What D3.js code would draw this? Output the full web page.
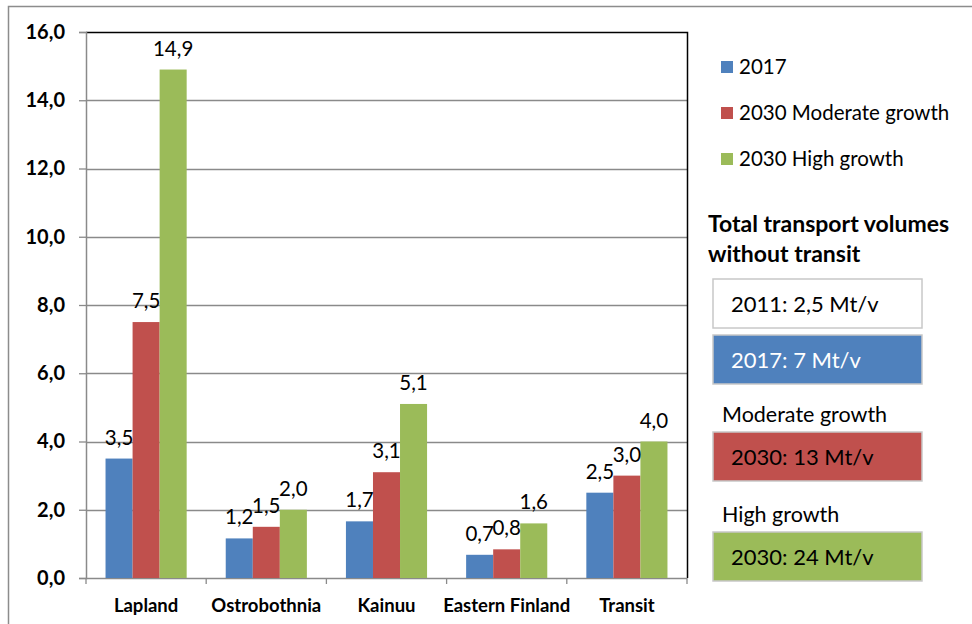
<!DOCTYPE html>
<html>
<head>
<meta charset="utf-8">
<script src="https://cdn.jsdelivr.net/npm/d3@7"></script>
<style>
  body { margin: 0; background: #fff; }
  text { font-family: Lato, "Open Sans", sans-serif; fill: #000; }
</style>
</head>
<body>
<div id="chart"></div>
<script>
// categories and series
var regions = ["Lapland", "Ostrobothnia", "Kainuu", "Eastern Finland", "Transit"];
var seriesNames = ["2017", "2030 Moderate growth", "2030 High growth"];
var values2017 = [3.5, 1.16, 1.66, 0.68, 2.5];
var valuesModerate = [7.5, 1.5, 3.1, 0.84, 3.0];
var valuesHigh = [14.9, 2.0, 5.1, 1.6, 4.0];
var yTicks = [0, 2, 4, 6, 8, 10, 12, 14, 16];

// side boxes
var boxTitle = ["Total transport volumes", "without transit"];
var boxLabels = ["", "", "Moderate growth", "High growth"];
var boxTexts = ["2011: 2,5 Mt/v", "2017: 7 Mt/v", "2030: 13 Mt/v", "2030: 24 Mt/v"];

var colors = ["#4F81BD", "#C0504D", "#9BBB59"];

var width = 972, height = 624;
var plot = { left: 86, right: 687, top: 32, bottom: 578 };

var svg = d3.select("#chart").append("svg")
  .attr("width", width)
  .attr("height", height);

// outer frame
svg.append("path")
  .attr("d", "M8.5," + height + "V6.5H" + width)
  .attr("fill", "none")
  .attr("stroke", "#8c8c8c")
  .attr("stroke-width", 1.5);

var x0 = d3.scaleBand()
  .domain(regions)
  .range([plot.left, plot.right])
  .paddingInner(0.325)
  .paddingOuter(0.1625);

var x1 = d3.scaleBand()
  .domain(seriesNames)
  .range([0, x0.bandwidth()]);

var y = d3.scaleLinear()
  .domain([0, 16])
  .range([plot.bottom, plot.top]);

// gridlines
svg.append("g")
  .selectAll("line")
  .data(yTicks.filter(function(d) { return d > 0 && d < 16; }))
  .enter()
  .append("line")
  .attr("x1", plot.left)
  .attr("x2", plot.right)
  .attr("y1", function(d) { return Math.round(y(d)) + 0.5; })
  .attr("y2", function(d) { return Math.round(y(d)) + 0.5; })
  .attr("stroke", "#8a8a8a")
  .attr("stroke-width", 1.3);

// plot border top and right
svg.append("path")
  .attr("d", "M" + plot.left + "," + (plot.top + 0.5) + "H" + (plot.right + 0.5) + "V" + plot.bottom)
  .attr("fill", "none")
  .attr("stroke", "#000")
  .attr("stroke-width", 1.5);

// y axis
var yAxis = d3.axisLeft(y)
  .tickValues(yTicks)
  .tickSize(7)
  .tickPadding(14)
  .tickFormat(function(d) { return d.toFixed(1).replace(".", ","); });

var yG = svg.append("g")
  .attr("transform", "translate(" + plot.left + ",0)")
  .call(yAxis);
yG.select(".domain").attr("stroke", "#8a8a8a").attr("stroke-width", 1.5);
yG.selectAll(".tick line").attr("stroke", "#8a8a8a").attr("stroke-width", 1.3);
yG.selectAll(".tick text")
  .style("font-size", "20px")
  .style("font-weight", "bold")
  .attr("fill", "#000");

// x axis with ticks at category boundaries
var bounds = d3.range(regions.length + 1).map(function(i) {
  return plot.left + i * x0.step();
});
svg.append("line")
  .attr("x1", plot.left).attr("x2", plot.right)
  .attr("y1", plot.bottom + 0.5).attr("y2", plot.bottom + 0.5)
  .attr("stroke", "#8a8a8a").attr("stroke-width", 1.5);
svg.append("g")
  .selectAll("line")
  .data(bounds)
  .enter()
  .append("line")
  .attr("x1", function(d) { return d; })
  .attr("x2", function(d) { return d; })
  .attr("y1", plot.bottom)
  .attr("y2", plot.bottom + 6)
  .attr("stroke", "#8a8a8a")
  .attr("stroke-width", 1.3);

svg.append("g")
  .selectAll("text")
  .data(regions)
  .enter()
  .append("text")
  .attr("x", function(d) { return x0(d) + x0.bandwidth() / 2; })
  .attr("y", 612)
  .attr("text-anchor", "middle")
  .style("font-size", "18.5px")
  .style("font-weight", "bold")
  .text(function(d) { return d; });

// bars
var table = regions.map(function(r, i) {
  return { region: r, vals: [values2017[i], valuesModerate[i], valuesHigh[i]] };
});

var groups = svg.append("g")
  .selectAll("g")
  .data(table)
  .enter()
  .append("g")
  .attr("transform", function(d) { return "translate(" + x0(d.region) + ",0)"; });

var bars = groups.selectAll("g")
  .data(function(d) {
    return d.vals.map(function(v, j) { return { name: seriesNames[j], value: v, idx: j }; });
  })
  .enter();

bars.append("rect")
  .attr("x", function(d) { return x1(d.name); })
  .attr("width", x1.bandwidth())
  .attr("y", function(d) { return y(d.value); })
  .attr("height", function(d) { return plot.bottom - y(d.value); })
  .attr("fill", function(d) { return colors[d.idx]; });

bars.append("text")
  .attr("x", function(d) { return x1(d.name) + x1.bandwidth() / 2; })
  .attr("y", function(d) { return y(d.value) - 14; })
  .attr("text-anchor", "middle")
  .style("font-size", "20.5px")
  .text(function(d) { return d.value.toFixed(1).replace(".", ","); });

// legend
var legend = svg.append("g")
  .selectAll("g")
  .data(seriesNames)
  .enter()
  .append("g")
  .attr("transform", function(d, i) { return "translate(721," + (67 + i * 46) + ")"; });
legend.append("rect")
  .attr("x", 0).attr("y", -6)
  .attr("width", 12).attr("height", 12)
  .attr("fill", function(d, i) { return colors[i]; });
legend.append("text")
  .attr("x", 18).attr("y", 7)
  .style("font-size", "20.5px")
  .text(function(d) { return d; });

// side title
svg.append("g")
  .selectAll("text")
  .data(boxTitle)
  .enter()
  .append("text")
  .attr("x", 708)
  .attr("y", function(d, i) { return 232 + i * 30; })
  .style("font-size", "23px")
  .style("font-weight", "bold")
  .text(function(d) { return d; });

// summary boxes
var boxFill = ["#ffffff", colors[0], colors[1], colors[2]];
var boxTop = [279, 335, 432, 532];
var box = svg.append("g")
  .selectAll("g")
  .data(boxTexts)
  .enter()
  .append("g")
  .attr("transform", function(d, i) { return "translate(713," + boxTop[i] + ")"; });
box.append("rect")
  .attr("width", 209).attr("height", 49)
  .attr("fill", function(d, i) { return boxFill[i]; })
  .attr("stroke", "#c8c8c8")
  .attr("stroke-width", 1.5);
box.append("text")
  .attr("x", 18).attr("y", 33)
  .style("font-size", "22px")
  .style("fill", function(d, i) { return i === 1 ? "#fff" : "#000"; })
  .text(function(d) { return d; });
box.append("text")
  .attr("x", 9).attr("y", -10)
  .style("font-size", "21.5px")
  .text(function(d, i) { return boxLabels[i]; });
</script>
</body>
</html>
